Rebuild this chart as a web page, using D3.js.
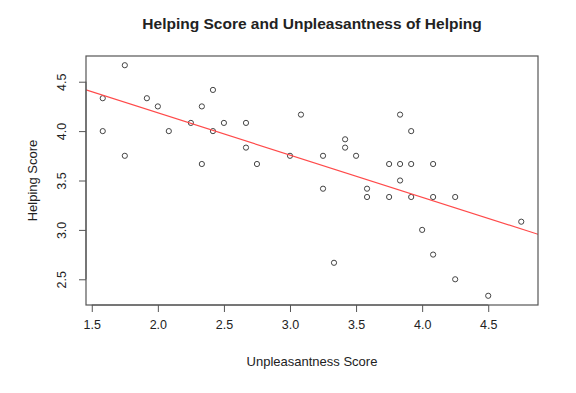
<!DOCTYPE html>
<html>
<head>
<meta charset="utf-8">
<script src="https://cdn.jsdelivr.net/npm/d3@7"></script>
<style>
  body { margin: 0; background: #fff; }
  text { font-family: "Liberation Sans", Arial, sans-serif; fill: #222; }
</style>
</head>
<body>
<svg id="chart" width="576" height="393"></svg>
<script>
// unpleasantness score (x) and helping score (y) for each respondent
const unpleasantness = [
	1.583, 1.583, 1.75, 1.75, 1.917, 2.0, 2.083, 2.25, 2.333, 2.333,
	2.417, 2.417, 2.5, 2.667, 2.667, 2.75, 3.0, 3.083, 3.25, 3.25,
	3.333, 3.417, 3.417, 3.5, 3.583, 3.583, 3.75, 3.75, 3.833, 3.833,
	3.833, 3.917, 3.917, 3.917, 4.0, 4.083, 4.083, 4.083, 4.25, 4.25,
	4.5, 4.75
];
const helping = [
	4.333, 4.0, 4.667, 3.75, 4.333, 4.25, 4.0, 4.083, 4.25, 3.667,
	4.417, 4.0, 4.083, 4.083, 3.833, 3.667, 3.75, 4.167, 3.75, 3.417,
	2.667, 3.917, 3.833, 3.75, 3.417, 3.333, 3.667, 3.333, 4.167, 3.667,
	3.5, 4.0, 3.667, 3.333, 3.0, 3.667, 3.333, 2.75, 3.333, 2.5,
	2.333, 3.083
];
const xTicks = [1.5, 2.0, 2.5, 3.0, 3.5, 4.0, 4.5];
const yTicks = [2.5, 3.0, 3.5, 4.0, 4.5];

const titleText = "Helping Score and Unpleasantness of Helping";
const xLabel = "Unpleasantness Score";
const yLabel = "Helping Score";

const svg = d3.select("#chart");
const plot = { left: 86, right: 538, top: 56, bottom: 305 };
const axisColor = "#555";

// R style: pad the data range by 4% on each side
function padded(vals) {
	const [lo, hi] = d3.extent(vals);
	const pad = (hi - lo) * 0.04;
	return [lo - pad, hi + pad];
}

const x = d3.scaleLinear().domain(padded(unpleasantness)).range([plot.left, plot.right]);
const y = d3.scaleLinear().domain(padded(helping)).range([plot.bottom, plot.top]);

const data = unpleasantness.map((d, i) => ({ x: d, y: helping[i] }));

// least squares fit, as lm(helping ~ unpleasantness)
const mx = d3.mean(unpleasantness);
const my = d3.mean(helping);
const sxy = d3.sum(data, d => (d.x - mx) * (d.y - my));
const sxx = d3.sum(data, d => (d.x - mx) ** 2);
const slope = sxy / sxx;
const intercept = my - slope * mx;

// clip for the fitted line
svg.append("clipPath").attr("id", "plotClip")
	.append("rect")
	.attr("x", plot.left).attr("y", plot.top)
	.attr("width", plot.right - plot.left).attr("height", plot.bottom - plot.top);

// points
svg.append("g")
	.selectAll("circle")
	.data(data)
	.enter()
	.append("circle")
	.attr("cx", d => x(d.x))
	.attr("cy", d => y(d.y))
	.attr("r", 2.6)
	.attr("fill", "none")
	.attr("stroke", "#444")
	.attr("stroke-width", 1);

// fitted line
const [x0, x1] = x.domain();
svg.append("line")
	.attr("clip-path", "url(#plotClip)")
	.attr("x1", x(x0)).attr("y1", y(intercept + slope * x0))
	.attr("x2", x(x1)).attr("y2", y(intercept + slope * x1))
	.attr("stroke", "#ff4a4a")
	.attr("stroke-width", 1.2);

// box
svg.append("rect")
	.attr("x", plot.left).attr("y", plot.top)
	.attr("width", plot.right - plot.left).attr("height", plot.bottom - plot.top)
	.attr("fill", "none")
	.attr("stroke", axisColor)
	.attr("stroke-width", 1.2);

// x axis
const xAxis = d3.axisBottom(x).tickValues(xTicks).tickFormat(d3.format(".1f")).tickSize(7).tickPadding(8);
const gx = svg.append("g")
	.attr("transform", `translate(0, ${plot.bottom})`)
	.call(xAxis);
gx.select(".domain").attr("d", `M${x(xTicks[0])},0H${x(xTicks[xTicks.length - 1])}`).attr("stroke", axisColor);
gx.selectAll(".tick line").attr("stroke", axisColor);
gx.selectAll(".tick text").attr("font-size", 12.5).attr("fill", "#222")
	.style("font-family", "'Liberation Sans', Arial, sans-serif");

// y axis, labels rotated like R's default
const yAxis = d3.axisLeft(y).tickValues(yTicks).tickFormat(d3.format(".1f")).tickSize(7).tickPadding(0);
const gy = svg.append("g")
	.attr("transform", `translate(${plot.left}, 0)`)
	.call(yAxis);
gy.select(".domain").attr("d", `M0,${y(yTicks[0])}V${y(yTicks[yTicks.length - 1])}`).attr("stroke", axisColor);
gy.selectAll(".tick line").attr("stroke", axisColor);
gy.selectAll(".tick text")
	.attr("x", 0).attr("y", 0).attr("dy", null)
	.attr("transform", "translate(-23, 0) rotate(-90)")
	.attr("text-anchor", "middle")
	.attr("dominant-baseline", "middle")
	.attr("font-size", 12.5).attr("fill", "#222")
	.style("font-family", "'Liberation Sans', Arial, sans-serif");

// title
svg.append("text")
	.attr("x", (plot.left + plot.right) / 2)
	.attr("y", 29)
	.attr("text-anchor", "middle")
	.attr("font-size", 15.5)
	.attr("font-weight", "bold")
	.text(titleText);

// axis labels
svg.append("text")
	.attr("x", (plot.left + plot.right) / 2)
	.attr("y", 366)
	.attr("text-anchor", "middle")
	.attr("font-size", 13)
	.text(xLabel);

svg.append("text")
	.attr("transform", `translate(37, ${(plot.top + plot.bottom) / 2}) rotate(-90)`)
	.attr("text-anchor", "middle")
	.attr("font-size", 13)
	.text(yLabel);
</script>
</body>
</html>
